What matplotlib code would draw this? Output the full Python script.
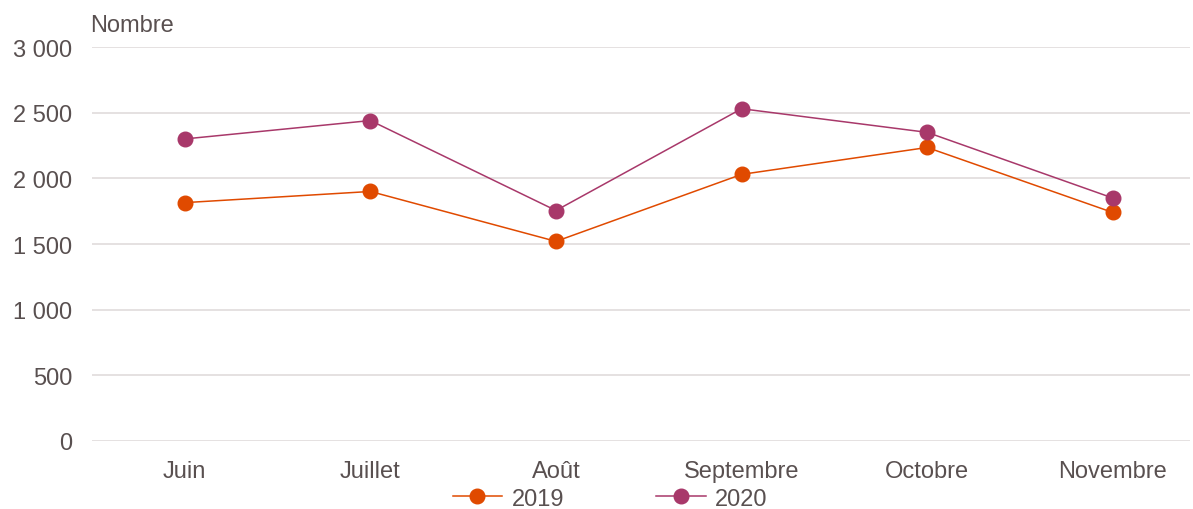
import matplotlib.pyplot as plt
from matplotlib.ticker import FuncFormatter

plt.rcParams.update({
    "font.family": ["Liberation Sans", "DejaVu Sans"],
    "font.size": 17,
    "text.color": "#595050",
    "xtick.color": "#595050",
    "ytick.color": "#595050",
})

mois = ["Juin", "Juillet", "Août", "Septembre", "Octobre", "Novembre"]
v2019 = [1815, 1900, 1520, 2030, 2235, 1740]
v2020 = [2300, 2440, 1755, 2530, 2350, 1850]

c2019 = "#E04A00"
c2020 = "#A8386A"

fig = plt.figure(figsize=(11.93, 5.10), dpi=100)
ax = fig.add_axes([92 / 1193, 68 / 510, 1098 / 1193, 394 / 510])

x = range(len(mois))
ax.plot(x, v2019, color=c2019, lw=1.1, marker="o", ms=10.5, label="2019", zorder=3)
ax.plot(x, v2020, color=c2020, lw=1.1, marker="o", ms=10.5, label="2020", zorder=3)

ax.set_xlim(-0.5, 5.416)
ax.set_ylim(0, 3000)
ax.set_yticks(range(0, 3001, 500))
ax.yaxis.set_major_formatter(FuncFormatter(lambda v, p: f"{int(v):,}".replace(",", " ")))
ax.set_xticks(list(x))
ax.set_xticklabels(mois)

ax.grid(axis="y", color="#E3DEDE", lw=1.3)
ax.set_axisbelow(True)
for s in ax.spines.values():
    s.set_visible(False)
ax.tick_params(length=0)
ax.tick_params(axis="y", pad=14)
ax.tick_params(axis="x", pad=14)

ax.text(-0.002, 1.056, "Nombre", transform=ax.transAxes, ha="left", va="center")

ax.legend(loc="center", bbox_to_anchor=(0.472, -0.146), ncol=2, frameon=False,
          handlelength=2.1, columnspacing=3.9, handletextpad=0.4, borderpad=0.2)

fig.savefig("out.png", dpi=100)
